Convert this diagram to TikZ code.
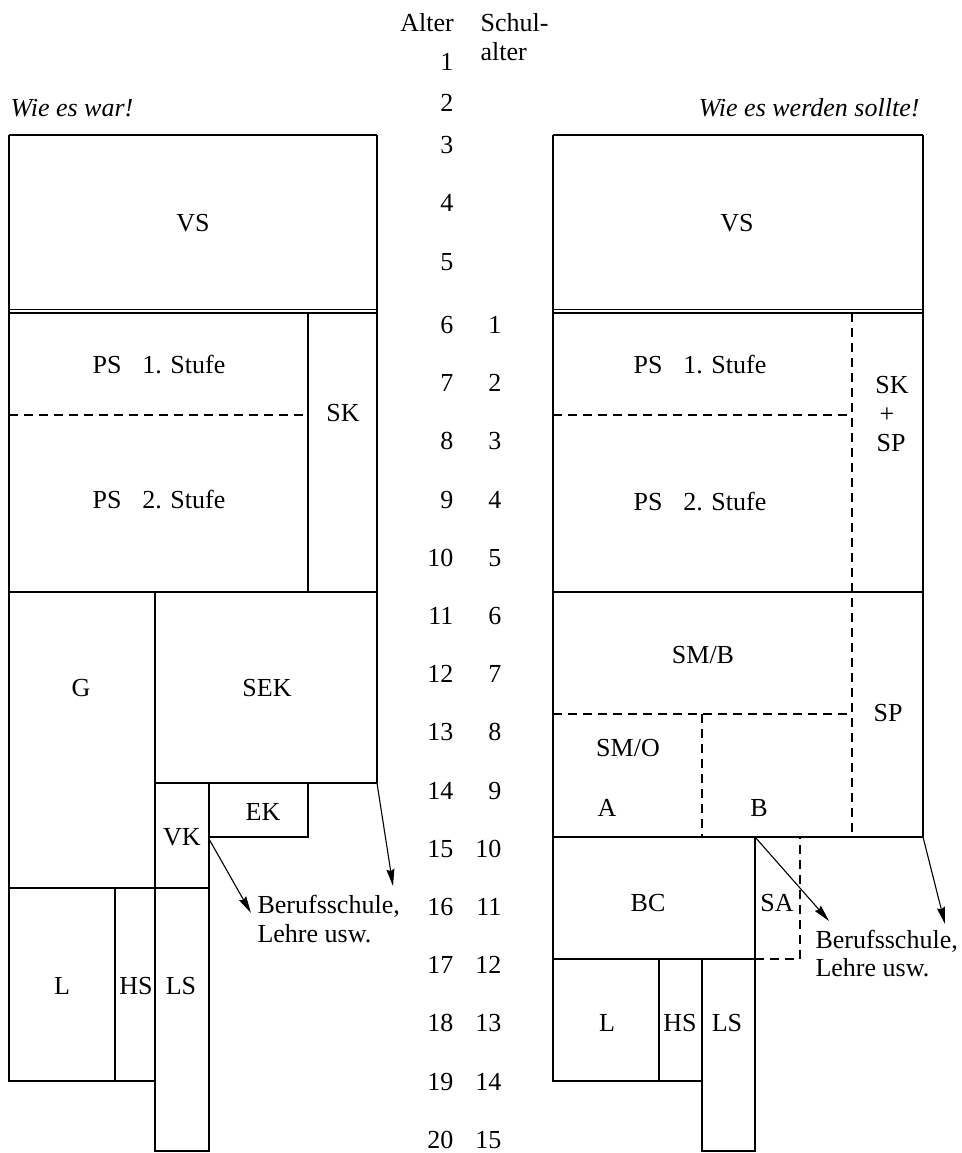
\documentclass[tikz,border=0pt]{standalone}
\usepackage{fontspec}
\setmainfont{Liberation Serif}
\usetikzlibrary{arrows.meta}
\begin{document}
\begin{tikzpicture}[x=1pt,y=-1pt,line width=1.1pt,
  lbl/.style={inner sep=0pt,text height=17pt,text depth=0pt,font=\fontsize{26}{30}\selectfont},
  dsh/.style={line width=1.1pt,dash pattern=on 9pt off 6pt},
  arr/.style={-{Stealth[length=17pt,width=8pt,inset=2pt]},line width=1.1pt}]
\useasboundingbox (0,0) rectangle (961,1153);

% ---------- header and age columns ----------
\node[lbl] (alter) at (427,23) {Alter};
\node[lbl,anchor=west] (schul) at (480,23) {Schul-};
\node[lbl,anchor=west] (schul2) at (480,52) {alter};
\foreach \a/\yy in {1/62,2/103,3/145,4/203,5/262}
  \node[lbl,anchor=east] (age\a) at (454,\yy) {\a};
\foreach \a in {6,...,20}{
  \pgfmathsetmacro\yy{325+58.2*(\a-6)}
  \pgfmathtruncatemacro\s{\a-5}
  \node[lbl,anchor=east] (age\a) at (454,\yy) {\a};
  \node[lbl,anchor=east] (sch\s) at (502,\yy) {\s};
}

\node[lbl,anchor=west,font=\fontsize{26}{30}\selectfont\itshape] (titL) at (10,108) {Wie es war!};
\node[lbl,anchor=east,font=\fontsize{26}{30}\selectfont\itshape] (titR) at (920,108) {Wie es werden sollte!};

% ---------- left diagram ----------
\draw (9,135) -- (377,135);
\draw (9,135) -- (9,1081) -- (155,1081);
\draw (377,135) -- (377,783);
\draw[line width=1.2pt] (9,309.5) -- (377,309.5);
\draw[line width=1.2pt] (9,313) -- (377,313);
\draw (308,313) -- (308,592);
\draw[dsh] (9,415) -- (308,415);
\draw (9,592) -- (377,592);
\draw (155,592) -- (155,1151) -- (209,1151) -- (209,783);
\draw (155,783) -- (377,783);
\draw (308,783) -- (308,837) -- (209,837);
\draw (9,888) -- (209,888);
\draw (115,888) -- (115,1081);

\node[lbl] (vsL) at (193,223) {VS};
\node[lbl] (ps1L) at (159,365) {PS\hspace{0.8em}1. Stufe};
\node[lbl] (ps2L) at (159,500) {PS\hspace{0.8em}2. Stufe};
\node[lbl] (skL) at (343,413) {SK};
\node[lbl] (gL) at (81,688) {G};
\node[lbl] (sekL) at (267,688) {SEK};
\node[lbl] (vkL) at (182,837) {VK};
\node[lbl] (ekL) at (263,812) {EK};
\node[lbl] (lL) at (62,986) {L};
\node[lbl] (hsL) at (136,986) {HS};
\node[lbl] (lsL) at (181,986) {LS};
\node[lbl,anchor=west] (bsL1) at (257,905) {Berufsschule,};
\node[lbl,anchor=west] (bsL2) at (257,934) {Lehre usw.};

\coordinate (aL1s) at (377,783);
\coordinate (aL1e) at (393,886);
\coordinate (aL2s) at (209,839);
\coordinate (aL2e) at (251,913);
\draw[arr] (aL1s) -- (aL1e);
\draw[arr] (aL2s) -- (aL2e);

% ---------- right diagram ----------
\draw (553,135) -- (923,135);
\draw (553,135) -- (553,1081) -- (702,1081);
\draw (923,135) -- (923,837);
\draw[line width=1.2pt] (553,309.5) -- (923,309.5);
\draw[line width=1.2pt] (553,313) -- (923,313);
\draw[dsh] (852,313) -- (852,837);
\draw[dsh] (553,415) -- (852,415);
\draw (553,592) -- (923,592);
\draw[dsh] (553,714) -- (852,714);
\draw[dsh] (702,714) -- (702,837);
\draw (553,837) -- (923,837);
\draw (755,837) -- (755,1151) -- (702,1151) -- (702,959);
\draw (553,959) -- (755,959);
\draw[dsh] (755,959) -- (800,959) -- (800,837);
\draw (659,959) -- (659,1081);

\node[lbl] (vsR) at (737,223) {VS};
\node[lbl] (ps1R) at (700,365) {PS\hspace{0.8em}1. Stufe};
\node[lbl] (ps2R) at (700,502) {PS\hspace{0.8em}2. Stufe};
\node[lbl] (skR) at (892,385) {SK};
\node[lbl] (plR) at (887,414) {+};
\node[lbl] (spR) at (891,443) {SP};
\node[lbl] (smb) at (703,655) {SM/B};
\node[lbl] (smo) at (628,748) {SM/O};
\node[lbl] (aR) at (607,808) {A};
\node[lbl] (bR) at (759,808) {B};
\node[lbl] (sp2R) at (888,713) {SP};
\node[lbl] (bcR) at (648,903) {BC};
\node[lbl] (saR) at (777,903) {SA};
\node[lbl] (lR) at (607,1023) {L};
\node[lbl] (hsR) at (680,1023) {HS};
\node[lbl] (lsR) at (727,1023) {LS};
\node[lbl,anchor=west] (bsR1) at (815,940) {Berufsschule,};
\node[lbl,anchor=west] (bsR2) at (815,968) {Lehre usw.};

\coordinate (aR1s) at (755,837);
\coordinate (aR1e) at (829,921);
\coordinate (aR2s) at (923,837);
\coordinate (aR2e) at (945,924);
\draw[arr] (aR1s) -- (aR1e);
\draw[arr] (aR2s) -- (aR2e);
\end{tikzpicture}
\end{document}
